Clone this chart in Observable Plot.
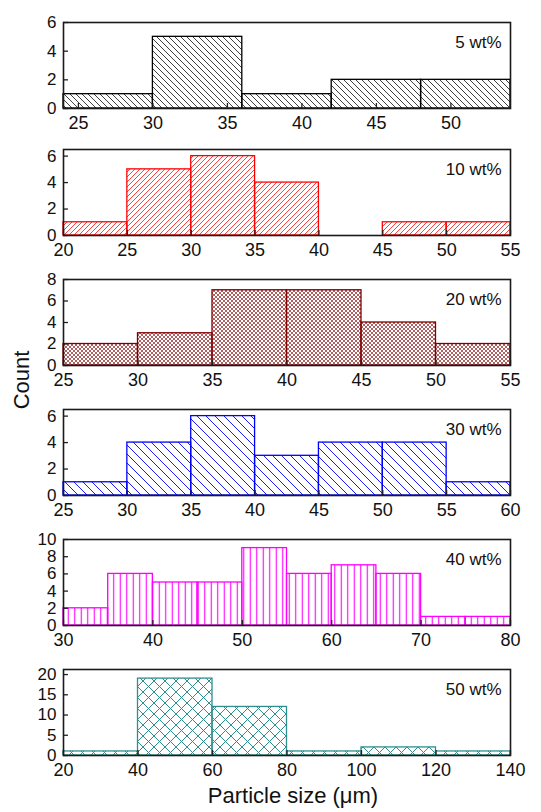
<!DOCTYPE html>
<html><head><meta charset="utf-8">
<script src="https://cdn.jsdelivr.net/npm/d3@7"></script>
<script src="https://cdn.jsdelivr.net/npm/@observablehq/plot@0.6"></script>
<style>
body{margin:0;background:#fff;}
#chart{position:relative;width:541px;height:812px;font-family:"Liberation Sans",Arial,sans-serif;color:#111;}
.panel{position:absolute;left:0;}
.lab{position:absolute;white-space:nowrap;}
</style></head><body><div id="chart">
<svg width="0" height="0" style="position:absolute">
<defs>
<pattern id="p1" patternUnits="userSpaceOnUse" width="6" height="6"><path d="M0,0L6,6M-1,5L1,7M5,-1L7,1" stroke="#000" stroke-width="0.75"/></pattern>
<pattern id="p2" patternUnits="userSpaceOnUse" width="5" height="5"><path d="M0,5L5,0M-1,1L1,-1M4,6L6,4" stroke="#ff0000" stroke-width="0.75"/></pattern>
<pattern id="p3" patternUnits="userSpaceOnUse" width="4" height="4"><path d="M0,0L4,4M0,4L4,0" stroke="#962c2c" stroke-width="0.75"/></pattern>
<pattern id="p4" patternUnits="userSpaceOnUse" width="9" height="9"><path d="M0,0L9,9M-1,8L1,10M8,-1L10,1" stroke="#0000ff" stroke-width="0.9"/></pattern>
<pattern id="p5" patternUnits="userSpaceOnUse" width="6.5" height="10"><path d="M3.25,0L3.25,10" stroke="#ff00ff" stroke-width="1.1"/></pattern>
<pattern id="p6" patternUnits="userSpaceOnUse" width="11" height="11"><path d="M0,0L11,11M0,11L11,0" stroke="#2f8f8f" stroke-width="1"/></pattern>
</defs></svg>
</div>
<script>
// Data
const panelLabels = ["5 wt%", "10 wt%", "20 wt%", "30 wt%", "40 wt%", "50 wt%"];

const edges5 = [24, 30, 36, 42, 48, 54];
const counts5 = [1, 5, 1, 2, 2];
const edges10 = [20, 25, 30, 35, 40, 45, 50, 55];
const counts10 = [1, 5, 6, 4, 0, 1, 1];
const edges20 = [25, 30, 35, 40, 45, 50, 55];
const counts20 = [2, 3, 7, 7, 4, 2];
const edges30 = [25, 30, 35, 40, 45, 50, 55, 60];
const counts30 = [1, 4, 6, 3, 4, 4, 1];
const edges40 = [30, 35, 40, 45, 50, 55, 60, 65, 70, 75, 80];
const counts40 = [2, 6, 5, 5, 9, 6, 7, 6, 1, 1];
const edges50 = [20, 40, 60, 80, 100, 120, 140];
const counts50 = [1, 19, 12, 1, 2, 1];

const xTicks5 = [25, 30, 35, 40, 45, 50];
const xTicks10 = [20, 25, 30, 35, 40, 45, 50, 55];
const xTicks20 = [25, 30, 35, 40, 45, 50, 55];
const xTicks30 = [25, 30, 35, 40, 45, 50, 55, 60];
const xTicks40 = [30, 40, 50, 60, 70, 80];
const xTicks50 = [20, 40, 60, 80, 100, 120, 140];

const yTicks5 = [0, 2, 4, 6];
const yTicks10 = [0, 2, 4, 6];
const yTicks20 = [0, 2, 4, 6, 8];
const yTicks30 = [0, 2, 4, 6];
const yTicks40 = [0, 2, 4, 6, 8, 10];
const yTicks50 = [0, 5, 10, 15, 20];

const yMax = [6, 6.5, 8, 6.5, 10, 21.25];
const xLabel = "Particle size (\u03bcm)";
const yLabel = "Count";

const colors = ["#000000", "#ff0000", "#800000", "#0000ff", "#ff00ff", "#2f8f8f"];
const fills = ["url(#p1)", "url(#p2)", "url(#p3)", "url(#p4)", "url(#p5)", "url(#p6)"];

const panels = [
  [edges5, counts5, xTicks5, yTicks5],
  [edges10, counts10, xTicks10, yTicks10],
  [edges20, counts20, xTicks20, yTicks20],
  [edges30, counts30, xTicks30, yTicks30],
  [edges40, counts40, xTicks40, yTicks40],
  [edges50, counts50, xTicks50, yTicks50]
];

const frameTops = [22, 149, 279, 409, 539, 669];
const chart = document.getElementById("chart");
const font = '"Liberation Sans", Arial, sans-serif';
const fmt = d3.format("d");

panels.forEach(([edges, counts, xt, yt], i) => {
  const bins = counts.map((c, j) => ({x1: edges[j], x2: edges[j + 1], y: c}));
  const mt = 10, mb = 34;
  const plot = Plot.plot({
    width: 541,
    height: 86 + mt + mb,
    marginLeft: 63,
    marginRight: 31,
    marginTop: mt,
    marginBottom: mb,
    x: {domain: [edges[0], edges[edges.length - 1]], ticks: xt},
    y: {domain: [0, yMax[i]], ticks: yt},
    style: {fontFamily: font, fontSize: "17px", color: "#111", background: "transparent", overflow: "visible"},
    marks: [
      Plot.rectY(bins.filter(d => d.y > 0), {x1: "x1", x2: "x2", y: "y", fill: fills[i], stroke: colors[i], strokeWidth: 1.3}),
      Plot.axisX({ticks: xt, tickSize: 0, tickPadding: 8, tickFormat: fmt, label: null, fontSize: 18}),
      Plot.axisX({ticks: xt, tickSize: -5, tickFormat: () => "", label: null, strokeWidth: 1.3, stroke: "#222"}),
      Plot.axisY({ticks: yt, tickSize: 0, tickPadding: 7, tickFormat: fmt, label: null, fontSize: 17}),
      Plot.axisY({ticks: yt, tickSize: -5, tickFormat: () => "", label: null, strokeWidth: 1.3, stroke: "#222"}),
      Plot.frame({stroke: "#1a1a1a", strokeWidth: 1.6}),
      Plot.text([panelLabels[i]], {frameAnchor: "top-right", dx: -9, dy: 13, fontSize: 17, fill: "#111", textAnchor: "end"})
    ]
  });
  plot.classList.add("panel");
  plot.style.top = (frameTops[i] - mt) + "px";
  chart.appendChild(plot);
});

const xl = document.createElement("div");
xl.className = "lab";
xl.textContent = xLabel;
xl.style.cssText += "left:293px;top:783px;transform:translateX(-50%);font-size:22px;";
chart.appendChild(xl);

const yl = document.createElement("div");
yl.className = "lab";
yl.textContent = yLabel;
yl.style.cssText += "left:22px;top:380px;transform:translate(-50%,-50%) rotate(-90deg);font-size:22px;";
chart.appendChild(yl);
</script>
</body></html>
